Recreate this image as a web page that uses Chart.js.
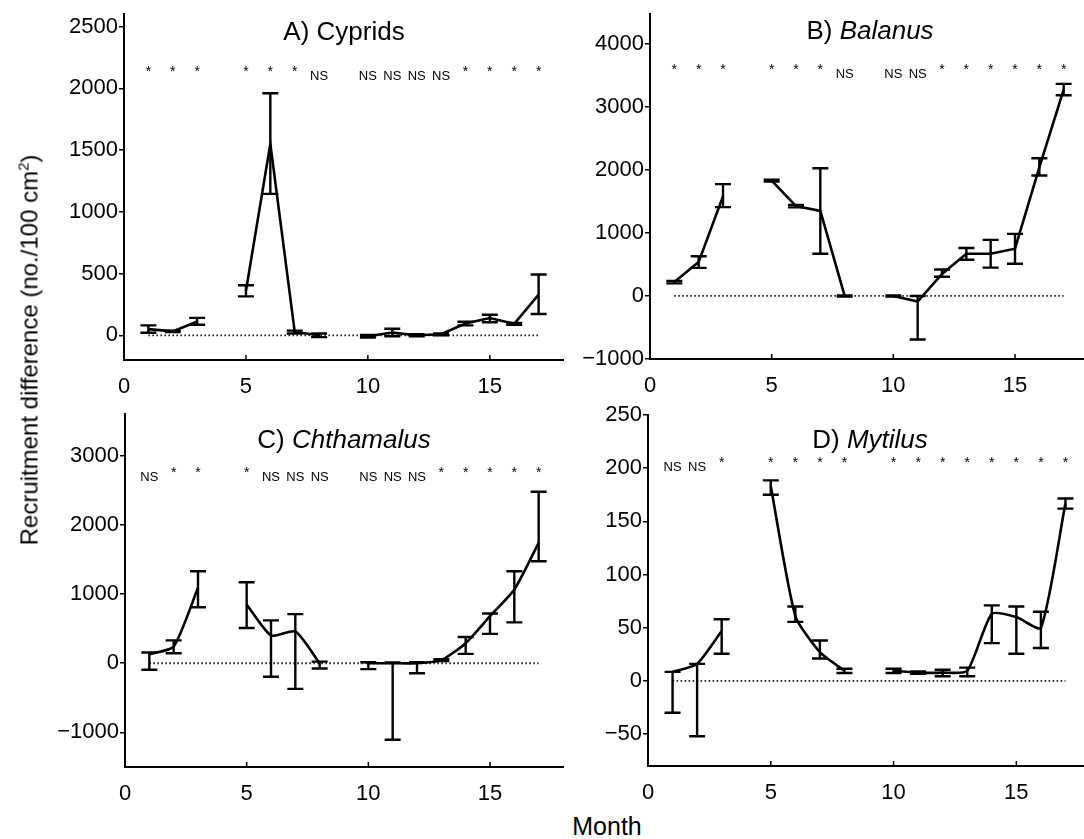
<!DOCTYPE html>
<html>
<head>
<meta charset="utf-8">
<script src="https://cdn.jsdelivr.net/npm/chart.js@4.4.1/dist/chart.umd.min.js"></script>
<style>
  html, body { margin:0; padding:0; background:#fff; width:1084px; height:839px; overflow:hidden; position:relative; font-family:"Liberation Sans", Arial, sans-serif; color:#000; }
  canvas { position:absolute; }
  .title { position:absolute; font-size:26px; transform:translate(-50%,-50%); white-space:nowrap; }
  .ylab { position:absolute; left:29px; top:350px; font-size:24px; transform:translate(-50%,-50%) rotate(-90deg); white-space:nowrap; }
  .ylab sup { font-size:15px; }
  .xlab { position:absolute; left:607px; top:826px; font-size:25px; transform:translate(-50%,-50%); }
</style>
</head>
<body>
<canvas id="cA" style="left:0px;top:0px" width="580" height="400"></canvas>
<canvas id="cB" style="left:526px;top:0px" width="580" height="400"></canvas>
<canvas id="cC" style="left:0px;top:400px" width="580" height="407"></canvas>
<canvas id="cD" style="left:524px;top:400px" width="580" height="406"></canvas>
<div class="title" style="left:344px;top:31px">A) Cyprids</div>
<div class="title" style="left:870px;top:30px">B) <i>Balanus</i></div>
<div class="title" style="left:344px;top:439px">C) <i>Chthamalus</i></div>
<div class="title" style="left:870px;top:439px">D) <i>Mytilus</i></div>
<div class="ylab">Recruitment difference (no./100 cm<sup>2</sup>)</div>
<div class="xlab">Month</div>
<script>
// ---- data ----
const months = [1,2,3,4,5,6,7,8,9,10,11,12,13,14,15,16,17];
const xTickValues = [0,5,10,15];

const meanA = [50, 32, 112, null, 360, 1550, 27, 0, null, -8, 22, 0, 8, 95, 140, 93, 330];
const lowA  = [21, 26, 85, null, 315, 1145, 15, -15, null, -18, -8, -8, 0, 80, 106, 85, 173];
const highA = [80, 38, 141, null, 405, 1960, 38, 15, null, 2, 53, 8, 15, 110, 167, 100, 492];
const sigA  = ['*','*','*','','*','*','*','NS','','NS','NS','NS','NS','*','*','*','*'];
const yTicksA = [0, 500, 1000, 1500, 2000, 2500];

const meanB = [220, 540, 1580, null, 1830, 1425, 1350, 0, null, 0, -90, 350, 670, 670, 750, 2040, 3275];
const lowB  = [200, 445, 1410, null, 1815, 1405, 670, -10, null, -10, -690, 305, 575, 450, 510, 1910, 3185];
const highB = [240, 630, 1775, null, 1845, 1445, 2025, 10, null, 10, 0, 420, 760, 890, 985, 2185, 3365];
const sigB  = ['*','*','*','','*','*','*','NS','','NS','NS','*','*','*','*','*','*'];
const yTicksB = [-1000, 0, 1000, 2000, 3000, 4000];

const meanC = [130, 240, 1090, null, 850, 400, 460, 0, null, 0, 0, 0, 45, 290, 680, 1065, 1740];
const lowC  = [-95, 145, 810, null, 510, -195, -370, -77, null, -85, -1105, -145, 30, 135, 425, 590, 1475];
const highC = [155, 330, 1330, null, 1170, 620, 710, 24, null, 15, 10, 15, 60, 380, 720, 1330, 2480];
const sigC  = ['NS','*','*','','*','NS','NS','NS','','NS','NS','NS','*','*','*','*','*'];
const yTicksC = [-1000, 0, 1000, 2000, 3000];

const meanD = [8.5, 16, 47, null, 183, 61, 27, 9.5, null, 9.5, 7.8, 7.8, 9.4, 63, 60, 50, 167];
const lowD  = [-30, -52, 25.5, null, 175, 55.5, 21, 7.5, null, 7.5, 6.8, 4.4, 4.4, 35.5, 25.5, 31, 162];
const highD = [8.5, 16, 58, null, 188.5, 70, 38, 11.5, null, 11.5, 8.8, 10.5, 12.5, 71, 70, 65, 171.5];
const sigD  = ['NS','NS','*','','*','*','*','*','','*','*','*','*','*','*','*','*'];
const yTicksD = [-50, 0, 50, 100, 150, 200, 250];

// ---- drawing ----
const FONT = '"Liberation Sans", Arial, sans-serif';
const panels = {
  cA: {mean:meanA, low:lowA, high:highA, sig:sigA, yTicks:yTicksA, ymin:-200, ymax:2600, sigY:2065, tension:0,
       yw:124, pad:{top:10, right:17, left:0, bottom:0}, xh:40},
  cB: {mean:meanB, low:lowB, high:highB, sig:sigB, yTicks:yTicksB, ymin:-1000, ymax:4470, sigY:3450, tension:0,
       yw:124, pad:{top:10, right:18, left:0, bottom:0}, xh:41},
  cC: {mean:meanC, low:lowC, high:highC, sig:sigC, yTicks:yTicksC, ymin:-1500, ymax:3600, sigY:2640, tension:0.2,
       yw:125, pad:{top:13, right:17, left:0, bottom:0}, xh:40},
  cD: {mean:meanD, low:lowD, high:highD, sig:sigD, yTicks:yTicksD, ymin:-80, ymax:250, sigY:197, tension:0.2,
       yw:124, pad:{top:15, right:14, left:0, bottom:0}, xh:40}
};

const errPlugin = {
  id: 'errbarsSig',
  afterDatasetsDraw(chart) {
    const p = panels[chart.canvas.id];
    const ctx = chart.ctx, x = chart.scales.x, y = chart.scales.y;
    ctx.save();
    ctx.strokeStyle = '#000';
    ctx.lineWidth = 2.4;
    ctx.lineCap = 'butt';
    months.forEach((m, i) => {
      if (p.mean[i] == null) return;
      const px = x.getPixelForValue(m);
      const yl = y.getPixelForValue(p.low[i]);
      const yh = y.getPixelForValue(p.high[i]);
      ctx.beginPath();
      ctx.moveTo(px, yl); ctx.lineTo(px, yh);
      ctx.moveTo(px - 8, yl); ctx.lineTo(px + 8, yl);
      ctx.moveTo(px - 8, yh); ctx.lineTo(px + 8, yh);
      ctx.stroke();
    });
    ctx.fillStyle = '#000';
    ctx.textAlign = 'center';
    ctx.textBaseline = 'alphabetic';
    const sy = y.getPixelForValue(p.sigY);
    p.sig.forEach((s, i) => {
      if (!s) return;
      const px = x.getPixelForValue(months[i]);
      if (s === '*') { ctx.font = '14px ' + FONT; ctx.fillText(s, px, sy - 4); }
      else { ctx.font = '13px ' + FONT; ctx.fillText(s, px, sy); }
    });
    // inward x ticks
    ctx.lineWidth = 1.5;
    const b = chart.chartArea.bottom;
    xTickValues.forEach(v => {
      const px = x.getPixelForValue(v);
      ctx.beginPath(); ctx.moveTo(px, b); ctx.lineTo(px, b - 5); ctx.stroke();
    });
    ctx.restore();
  }
};

Object.keys(panels).forEach(id => {
  const p = panels[id];
  const lineData = months.map((m, i) => ({x: m, y: p.mean[i]}));
  const zeroData = [{x: months[0], y: 0}, {x: months[months.length - 1], y: 0}];
  new Chart(document.getElementById(id), {
    type: 'line',
    data: {
      datasets: [
        {data: zeroData, borderColor: '#222', borderWidth: 1.8, borderDash: [1.6, 2.4], pointRadius: 0, tension: 0, order: 2},
        {data: lineData, borderColor: '#000', borderWidth: 2.6, pointRadius: 0, spanGaps: false,
         tension: p.tension, order: 1}
      ]
    },
    options: {
      responsive: false,
      animation: false,
      events: [],
      layout: {padding: p.pad},
      plugins: {legend: {display: false}, tooltip: {enabled: false}, title: {display: false}},
      scales: {
        x: {
          type: 'linear', min: 0, max: 18,
          afterBuildTicks: s => { s.ticks = xTickValues.map(v => ({value: v})); },
          afterFit: s => { s.height = p.xh; },
          grid: {display: false},
          border: {display: true, color: '#000', width: 2},
          ticks: {color: '#000', font: {family: FONT, size: 22}, padding: 6, maxRotation: 0, autoSkip: false}
        },
        y: {
          type: 'linear', min: p.ymin, max: p.ymax,
          afterBuildTicks: s => { s.ticks = p.yTicks.map(v => ({value: v})); },
          afterFit: s => { s.width = p.yw; },
          grid: {display: true, drawOnChartArea: false, drawTicks: true, tickLength: 5, color: '#000', lineWidth: 1.5},
          border: {display: true, color: '#000', width: 2},
          ticks: {color: '#000', font: {family: FONT, size: 22}, padding: 1, autoSkip: false,
                  callback: v => (v < 0 ? '\u2212' + Math.abs(v) : String(v))}
        }
      }
    },
    plugins: [errPlugin]
  });
});
</script>
</body>
</html>
